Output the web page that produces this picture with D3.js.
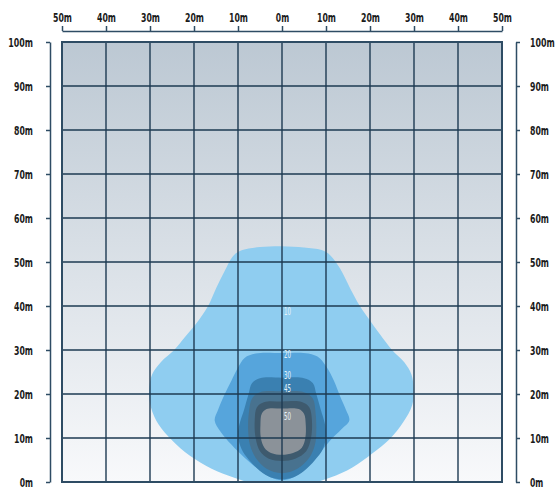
<!DOCTYPE html>
<html>
<head>
<meta charset="utf-8">
<script src="https://cdn.jsdelivr.net/npm/d3@7"></script>
<style>
  body { margin: 0; background: #fff; }
  text { font-family: "DejaVu Sans Condensed", "Liberation Sans Narrow", sans-serif; }
</style>
</head>
<body>
<div id="wrapper"></div>
<script>
// ticks in metres
const xTicks = [-50, -40, -30, -20, -10, 0, 10, 20, 30, 40, 50]
const yTicks = [0, 10, 20, 30, 40, 50, 60, 70, 80, 90, 100]

// lux contours, [x metres, y metres]
const contour10 = [[0,53.6],[-5,53.4],[-9,52.7],[-11,51.5],[-13,48],[-15,44],[-16.8,40],[-19.5,36],[-22,33],[-24.5,30],[-27.5,27.3],[-29.5,24.5],[-30.2,21],[-29.8,17],[-28,13],[-25,9.5],[-21,6],[-16,3],[-11,1],[-6,-0.5],[0,-1],
  [6,-0.5],[11,1],[16,3.3],[20.5,6.5],[24.5,9.8],[27.5,13.5],[29.6,17.5],[29.9,21.5],[29.4,24.5],[27.8,27.2],[25,30],[22.3,33.5],[19.8,37],[17.7,40],[15.5,44],[13.2,48.5],[11,51.5],[9,52.7],[5,53.3]]
const contour20 = [[0,29.3],[-6,29.2],[-8.5,28.2],[-10,26],[-11.5,23],[-13,20],[-14.5,16.5],[-15.3,14],[-14,11.5],[-11.5,8.5],[-8.5,5.5],[-5.5,3],[-2.5,1],[0,0.4],
  [2.5,1],[5.5,3.2],[8.5,6.5],[11,9.5],[13.5,12],[15.3,14],[14.5,16.5],[13.2,19.5],[11.8,23],[10.2,26],[8.5,28.2],[6,29.2]]
const contour30 = [[0,23.7],[-5,23.6],[-6.8,22.5],[-7.6,20],[-8.6,16.5],[-9.7,13],[-10,10.5],[-9.2,7.5],[-7.5,5],[-5,2.5],[-2.5,1],[0,0.6],
  [2.5,1],[5,2.5],[7.5,5],[9.3,7.5],[10,10.5],[9.8,13],[8.8,16.5],[7.8,20],[7,22.5],[5,23.6]]
const contour45 = [[0,20.6],[-5,20.4],[-6.8,19],[-7.5,16],[-7.7,12],[-7.3,8.5],[-6,5.5],[-3.5,3],[0,2],
  [3.5,3],[6.2,5.5],[7.5,8.5],[7.8,12],[7.6,16],[7,19],[5,20.4]]
const contourRing = [[0,18.3],[-4,18.2],[-5.7,17],[-6.2,14],[-6,10],[-5,7],[-3,5.3],[0,4.8],[3,5.3],[5.5,7],[6.6,10],[6.8,14],[6.2,17],[4.5,18.2]]
const contour50 = [[0,16.7],[-3.5,16.6],[-4.6,15.5],[-4.9,13],[-4.8,10],[-4,7.8],[-2.5,6.6],[0,6.2],[2.5,6.6],[4.5,7.8],[5.3,10],[5.4,13],[5,15.5],[3.8,16.6]]

const contourLabels = ["10", "20", "30", "45", "50"]
const labelY = [38.8, 29, 24.3, 21.2, 15]

const layers = [
  { pts: contour10, color: "#8fcdf0" },
  { pts: contour20, color: "#56a5dc" },
  { pts: contour30, color: "#3a80b1" },
  { pts: contour45, color: "#48728f" },
  { pts: contourRing, color: "#3e5a6e" },
  { pts: contour50, color: "#8b9299" },
]

const width = 557, height = 487
const plot = { left: 62, right: 502, top: 42, bottom: 482 }

const svg = d3.select("#wrapper").append("svg")
  .attr("width", width)
  .attr("height", height)

const xScale = d3.scaleLinear().domain([-50, 50]).range([plot.left, plot.right])
const yScale = d3.scaleLinear().domain([0, 100]).range([plot.bottom, plot.top])

const defs = svg.append("defs")
const grad = defs.append("linearGradient")
  .attr("id", "bg").attr("x1", 0).attr("y1", 0).attr("x2", 0).attr("y2", 1)
grad.append("stop").attr("offset", "0%").attr("stop-color", "#bcc8d3")
grad.append("stop").attr("offset", "100%").attr("stop-color", "#f8f9fb")
defs.append("clipPath").attr("id", "clip")
  .append("rect")
    .attr("x", plot.left).attr("y", plot.top)
    .attr("width", plot.right - plot.left).attr("height", plot.bottom - plot.top)

svg.append("rect")
  .attr("x", plot.left).attr("y", plot.top)
  .attr("width", plot.right - plot.left).attr("height", plot.bottom - plot.top)
  .attr("fill", "url(#bg)")

const lineGenerator = d3.line()
  .x(d => xScale(d[0]))
  .y(d => yScale(d[1]))
  .curve(d3.curveCatmullRomClosed.alpha(0.5))

svg.append("g").attr("clip-path", "url(#clip)")
  .selectAll("path")
  .data(layers)
  .join("path")
    .attr("d", d => lineGenerator(d.pts))
    .attr("fill", d => d.color)

// grid
const grid = svg.append("g").attr("stroke", "#1d3a52").attr("stroke-width", 1.4)
grid.selectAll(".vx").data(xTicks.slice(1, -1)).join("line")
  .attr("x1", d => xScale(d)).attr("x2", d => xScale(d))
  .attr("y1", plot.top).attr("y2", plot.bottom)
grid.selectAll(".hy").data(yTicks.slice(1, -1)).join("line")
  .attr("y1", d => yScale(d)).attr("y2", d => yScale(d))
  .attr("x1", plot.left).attr("x2", plot.right)

svg.append("rect")
  .attr("x", plot.left).attr("y", plot.top)
  .attr("width", plot.right - plot.left).attr("height", plot.bottom - plot.top)
  .attr("fill", "none").attr("stroke", "#2e4c64").attr("stroke-width", 2)

// contour labels
svg.append("g").selectAll("text")
  .data(contourLabels)
  .join("text")
    .attr("x", xScale(0) + 2)
    .attr("y", (d, i) => yScale(labelY[i]))
    .attr("dy", "0.35em")
    .attr("fill", "#e6f2fa")
    .attr("font-size", 10)
    .attr("textLength", 7)
    .attr("lengthAdjust", "spacingAndGlyphs")
    .text(d => d)

// axes
const fmt = d => Math.abs(d) + "m"
const styleAxis = g => {
  g.selectAll("path").attr("stroke", "#2e4c64").attr("stroke-width", 1.5)
  g.selectAll("line").attr("stroke", "#2e4c64").attr("stroke-width", 1.5)
  g.selectAll("text")
    .attr("fill", "#1a1a1a").attr("font-size", 13).attr("font-weight", "bold")
    .attr("textLength", d => String(Math.abs(d)).length * 5.7 + 7.6)
    .attr("lengthAdjust", "spacingAndGlyphs")
}

svg.append("g")
  .attr("transform", "translate(0,31)")
  .call(d3.axisTop(xScale).tickValues(xTicks).tickFormat(fmt).tickSize(5).tickSizeOuter(0).tickPadding(4))
  .call(styleAxis)

svg.append("g")
  .attr("transform", "translate(50,0)")
  .call(d3.axisLeft(yScale).tickValues(yTicks).tickFormat(fmt).tickSize(4).tickSizeOuter(0).tickPadding(13))
  .call(styleAxis)

svg.append("g")
  .attr("transform", "translate(516,0)")
  .call(d3.axisRight(yScale).tickValues(yTicks).tickFormat(fmt).tickSize(4).tickSizeOuter(0).tickPadding(10))
  .call(styleAxis)

svg.selectAll(".domain").attr("fill", "none")
</script>
</body>
</html>
